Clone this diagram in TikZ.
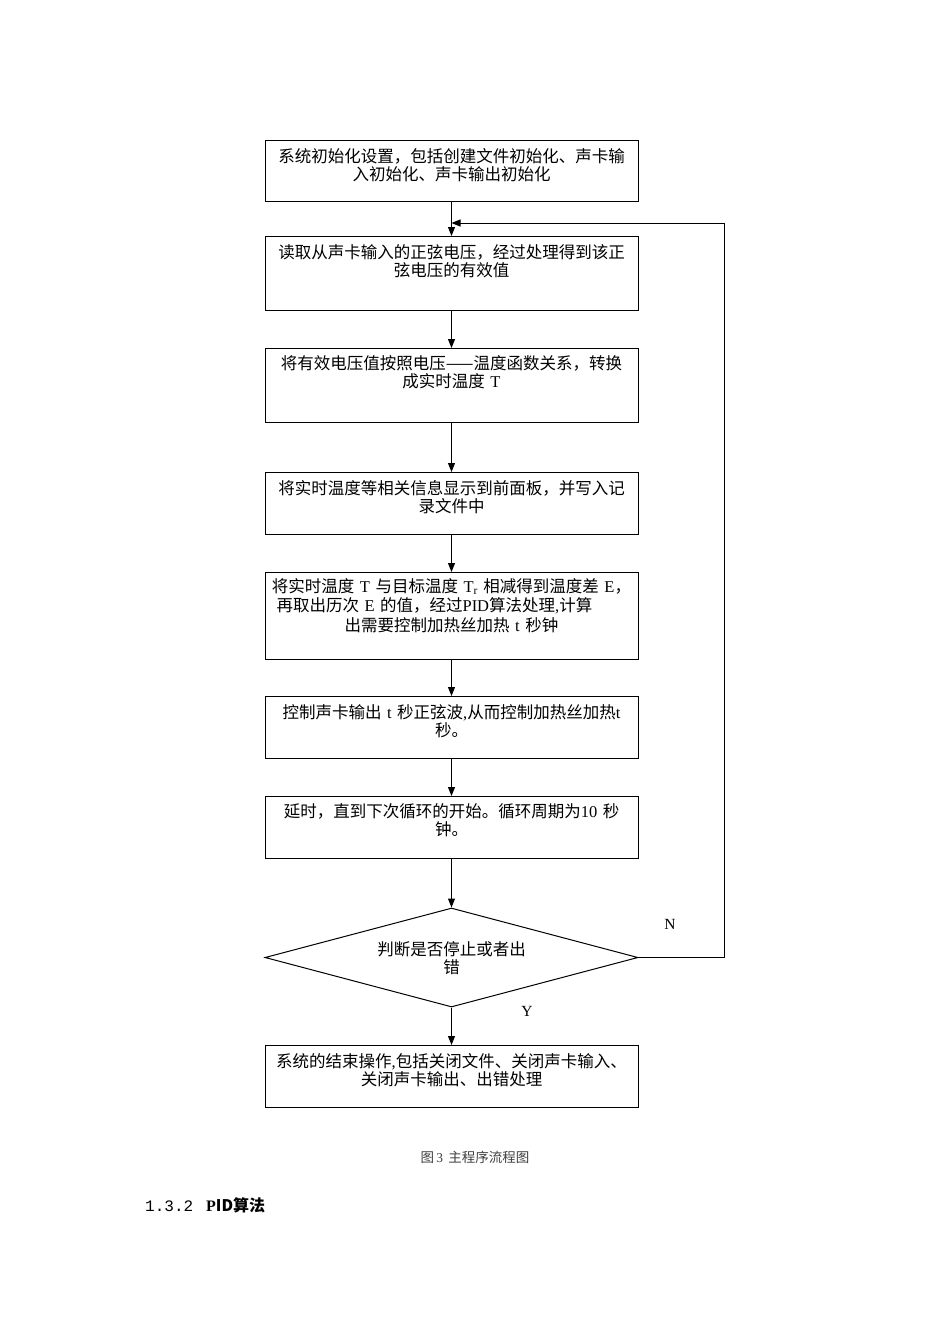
\documentclass[tikz,border=0pt]{standalone}
\usepackage{fontspec}
\setmainfont{Noto Sans CJK SC}
\newfontfamily\latinfont{Liberation Serif}
\newfontfamily\codefont{Liberation Mono}
\usetikzlibrary{arrows.meta,shapes.geometric,positioning}
\newcommand\lt[1]{{\latinfont #1}}
\tikzset{
  stepbox/.style={draw, line width=1pt, minimum width=373pt, inner sep=0pt, anchor=north},
  boxtext/.style={font=\fontsize{16.5}{18.5}\selectfont, align=center, text width=366pt, inner sep=0pt, anchor=north},
  flow/.style={-{Triangle[length=9pt,width=7pt]}, line width=1pt},
}
\begin{document}
\begin{tikzpicture}[x=1pt, y=-1pt, line join=miter]
  \useasboundingbox (0,0) rectangle (950,1344);
  \fill[white] (0,0) rectangle (950,1344);
  % boxes
  \node[stepbox, minimum height=61pt] (init) at (451.5,140) {};
  \node[stepbox, minimum height=74pt] (read) at (451.5,236) {};
  \node[stepbox, minimum height=74pt] (conv) at (451.5,348) {};
  \node[stepbox, minimum height=62pt] (show) at (451.5,472) {};
  \node[stepbox, minimum height=87pt] (pid) at (451.5,572) {};
  \node[stepbox, minimum height=62pt] (heat) at (451.5,696) {};
  \node[stepbox, minimum height=62pt] (wait) at (451.5,796) {};
  \node[draw, diamond, line width=1pt, inner sep=0pt, minimum width=373pt, minimum height=99pt] (judge) at (451.5,957.5) {};
  \node[stepbox, minimum height=62pt] (stop) at (451.5,1045) {};
  % texts
  \node[boxtext, below=8pt of init.north] (initT) {系统初始化设置，包括创建文件初始化、声卡输\\入初始化、声卡输出初始化};
  \node[boxtext, below=8pt of read.north] (readT) {读取从声卡输入的正弦电压，经过处理得到该正\\弦电压的有效值};
  \node[boxtext, below=7pt of conv.north] (convT) {将有效电压值按照电压——温度函数关系，转换\\成实时温度 \lt{T}};
  \node[boxtext, below=8pt of show.north] (showT) {将实时温度等相关信息显示到前面板，并写入记\\录文件中};
  \node[boxtext, below=6pt of pid.north, font=\fontsize{16.5}{19.5}\selectfont] (pidT) {将实时温度 \lt{T} 与目标温度 \lt{T\textsubscript{r}} 相减得到温度差 \lt{E}，\\
    \makebox[350pt][l]{再取出历次 \lt{E} 的值，经过\lt{PID}算法处理\lt{,}计算}\\出需要控制加热丝加热 \lt{t} 秒钟};
  \node[boxtext, below=8pt of heat.north] (heatT) {控制声卡输出 \lt{t} 秒正弦波\lt{,}从而控制加热丝加热\lt{t}\\秒。};
  \node[boxtext, below=7pt of wait.north] (waitT) {延时，直到下次循环的开始。循环周期为\lt{10} 秒\\钟。};
  \node[boxtext, text width=170pt] (judgeT) at (451.5,941) {判断是否停止或者出\\错};
  \node[boxtext, below=8pt of stop.north] (stopT) {系统的结束操作\lt{,}包括关闭文件、关闭声卡输入、\\关闭声卡输出、出错处理};
  % labels
  \node[font=\latinfont\fontsize{15.5}{15}\selectfont] (no) at (670,924) {N};
  \node[font=\latinfont\fontsize{15.5}{15}\selectfont] (yes) at (527,1011) {Y};
  \node[font=\fontsize{13.5}{14}\selectfont, text=black!75] (cap) at (475,1157) {图\,\lt{3}\, 主程序流程图};
  \node[anchor=west, inner sep=0pt, font=\fontsize{16}{16}\selectfont] (sec) at (145,1205) {{\codefont 1.3.2}\hspace{13pt}\textbf{\lt{P}ID算法}};
  % connectors
  \coordinate (loopin) at (451.5,223);
  \coordinate (loopa) at (724,957.5);
  \coordinate (loopb) at (724,223);
  \draw[flow] (init.south) -- (read.north);
  \draw[flow] (read.south) -- (conv.north);
  \draw[flow] (conv.south) -- (show.north);
  \draw[flow] (show.south) -- (pid.north);
  \draw[flow] (pid.south) -- (heat.north);
  \draw[flow] (heat.south) -- (wait.north);
  \draw[flow] (wait.south) -- (judge.north);
  \draw[flow] (judge.south) -- (stop.north);
  \draw[flow] (judge.east) -- (loopa) -- (loopb) -- (loopin);
\end{tikzpicture}
\end{document}
